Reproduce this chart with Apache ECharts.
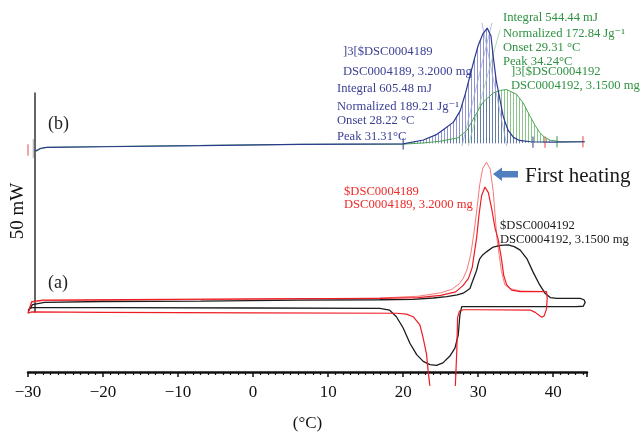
<!DOCTYPE html>
<html><head><meta charset="utf-8">
<script src="https://cdn.jsdelivr.net/npm/echarts@6/dist/echarts.min.js"></script>
<style>html,body{margin:0;padding:0;background:#fff}#c{width:640px;height:437px}</style>
</head><body><div id="c"></div>
<script>
// ---- data (x: temperature °C, y: heat flow, mW, arbitrary offset) ----
const xMin = -30, xMax = 44.5, xInterval = 10;
const xTickLabels = [-30, -20, -10, 0, 10, 20, 30, 40];

// (a) DSC0004192 heating + cooling loop (black)
const blackA = [[-30,13.9],[-29.4,15.5],[-27.8,16.0],[-20,16.2],[-7,16.3],[6.2,16.5],[16.9,16.6],[21.3,16.7],[24,17.0],[25.8,17.3],[27.2,17.7],[28.0,18.1],[28.9,19.2],[29.3,21.1],[29.8,23.4],[30.0,24.9],[30.2,26.0],[30.6,26.9],[31.1,27.6],[32.0,28.7],[33.0,29.1],[34.0,29.2],[34.8,28.8],[35.6,28.0],[36.5,26.0],[37.3,23.0],[38.2,20.0],[38.9,18.1],[39.6,17.1],[40.5,16.9],[43.6,16.9],[44.1,16.6],[44.25,16.0],[44.0,15.1],[43.0,15.0],[35,15.0],[30,15.0],[27.8,15.0],[27.56,13.1],[27.34,8.5],[26.9,5.5],[26.2,3.6],[25.3,2.1],[24.45,1.5],[23.56,1.7],[22.67,2.45],[21.8,4.0],[20.9,6.6],[20.0,10.1],[19.1,12.7],[18.2,14.2],[16.9,14.6],[0,14.7],[-20,14.8],[-29.5,14.8],[-30,14.3]];

// (a) DSC0004189 heating + cooling loop (red)
const redA = [[-30,13.5],[-29.5,16.2],[-28,16.5],[0,16.8],[16.9,16.9],[22,17.1],[25,17.6],[27,18.4],[28.0,19.9],[28.7,21.5],[29.2,24.0],[29.5,27.5],[29.8,31.0],[30.1,36.0],[30.45,40.5],[30.9,42.5],[31.35,41.2],[31.8,37.5],[32.25,33.0],[32.65,30.6],[33.1,26.0],[33.4,22.2],[33.8,20.0],[34.45,18.8],[35.6,18.45],[39.1,18.45],[39.2,17.0],[39.1,14.5],[38.8,12.9],[38.5,12.6],[38.2,12.9],[37.6,13.7],[37.0,14.2],[30,14.3],[28.0,14.3],[27.5,14.0],[27.25,12.5],[27.15,5.0],[26.95,-3.2],[26.95,'-'],[23.56,-3.2],[23.33,0.2],[23.12,4.0],[22.67,7.8],[22.23,10.8],[21.33,12.7],[20.45,13.3],[19.1,13.5],[0,13.6],[-20,13.7],[-29.5,13.8],[-30,13.5]];

// (a) DSC0004189 first heating (light red)
const redFirst = [[-30,13.5],[-29.5,16.0],[-28,16.4],[0,16.7],[16.9,17.0],[22,17.4],[25,18.2],[26.5,19.0],[27.5,20.3],[28.0,21.5],[28.5,23.5],[29.0,27.0],[29.4,31.5],[29.8,37.0],[30.2,43.0],[30.6,46.8],[31.1,48.2],[31.6,46.6],[32.0,41.5],[32.3,35.0],[32.5,30.6],[32.8,26.8],[33.1,23.1],[33.56,20.0],[34.2,19.2],[35.6,18.6],[39.1,18.5]];

// (b) integrated heating curves
const blueB = [[-29.1,50.7],[-28.3,51.4],[-27.5,51.6],[-20,51.75],[-7,52.0],[6.2,52.3],[20,52.4],[22.7,53.3],[24.5,54.6],[25.3,55.6],[26.7,57.4],[27.6,60.0],[28.3,64.0],[28.9,68.0],[29.5,72.0],[30.0,75.0],[30.6,77.6],[31.2,79.0],[31.7,77.2],[32.0,72.5],[32.4,67.0],[32.9,62.6],[33.3,59.0],[33.6,57.3],[34.0,55.5],[34.7,53.9],[35.5,53.2],[37.0,52.9],[40,52.8],[44.2,52.9]];
const greenB = [[-29.1,50.5],[-28.3,51.3],[-27.5,51.6],[-20,51.8],[-7,52.05],[6.2,52.3],[20,52.35],[22.5,52.6],[24.9,53.0],[27.3,53.8],[28.5,55.5],[29.3,58.0],[30.6,61.9],[32.0,64.1],[33.0,64.7],[33.8,64.9],[35.1,63.8],[36.0,61.8],[36.9,58.8],[37.6,56.6],[38.2,55.0],[38.8,54.0],[39.6,53.25],[41,52.9],[44.2,52.9]];
const blueRange = [20.0, 37.3], greenRange = [24.9, 40.5];
const blueBase = 52.5, greenBase = 52.6;
const blueTangents = [[[27.83,51.87],[31.83,80.2]], [[30.5,80.2],[33.83,51.87]]];
const greenTangents = [[[28.67,51.9],[32.9,78.6]]];
const blueMarks = [[20.0,52.4],[37.3,52.8]], greenMarks = [[40.5,52.9]], redMarks = [[38.9,52.8],[43.96,52.9],[-30,51.0]];
const greyMarks = [[-29.3,51.3]];

// texts
const blueText = [']3[$DSC0004189','DSC0004189, 3.2000 mg','Integral 605.48 mJ','Normalized 189.21 Jg⁻¹','Onset 28.22 °C','Peak 31.31°C'];
const greenText = ['Integral 544.44 mJ','Normalized 172.84 Jg⁻¹','Onset 29.31 °C','Peak 34.24°C',']3[$DSC0004192','DSC0004192, 3.1500 mg'];
const redText = ['$DSC0004189','DSC0004189, 3.2000 mg'];
const blackText = ['$DSC0004192','DSC0004192, 3.1500 mg'];

// ---- chart ----
const SERIF = '"Liberation Serif","DejaVu Serif",serif';
function hatch(color, step) {
  const c = document.createElement('canvas'); c.width = step; c.height = 4;
  const g = c.getContext('2d'); g.fillStyle = color; g.fillRect(0, 0, 1, 4); return c;
}
function lineSeries(data, color, width, extra) {
  return Object.assign({type:'line', data, showSymbol:false, symbol:'none', clip:false, connectNulls:false,
    lineStyle:{color, width}, itemStyle:{color}, silent:true, animation:false}, extra || {});
}
function marks(data, color, half) {
  return {type:'custom', data, clip:false, silent:true, animation:false,
    renderItem(p, api) {
      const x = api.value(0), y = api.value(1);
      const a = api.coord([x, y - half]), b = api.coord([x, y + half]);
      return {type:'line', shape:{x1:a[0], y1:a[1], x2:b[0], y2:b[1]}, style:{stroke:color, lineWidth:1}};
    }};
}
const series = [];
series.push(lineSeries(greenB.filter(p => p[0] >= greenRange[0] && p[0] <= greenRange[1]), 'rgba(0,0,0,0)', 0,
  {areaStyle:{color:{image:hatch('rgba(60,160,60,0.85)',3), repeat:'repeat'}, origin: greenBase}}));
series.push(lineSeries(blueB.filter(p => p[0] >= blueRange[0] && p[0] <= blueRange[1]), 'rgba(0,0,0,0)', 0,
  {areaStyle:{color:{image:hatch('rgba(70,78,175,0.85)',3), repeat:'repeat'}, origin: blueBase}}));
blueTangents.forEach(t => series.push(lineSeries(t, '#a6aadb', 0.8)));
greenTangents.forEach(t => series.push(lineSeries(t, '#9ed39e', 0.8)));
series.push(lineSeries(greenB, '#4aa84f', 1));
series.push(lineSeries(blueB, '#2c3990', 1.2));
series.push(marks(blueMarks, '#2c3990', 1.3));
series.push(marks(greenMarks, '#3a9a45', 1.3));
series.push(marks(redMarks, '#ee4444', 1.3));
series.push(marks(greyMarks, '#aaaaaa', 2.2));
series.push(lineSeries(redFirst, '#f36a6a', 0.9));
series.push(lineSeries(blackA, '#1c1c1c', 1.3));
series.push(lineSeries(redA, '#ee1c24', 1.2));

function texts(list, x, ys, color) {
  return list.map((t, i) => ({type:'text', x, y: ys[i], silent:true,
    style:{text:t, fill:color, font:'12.6px ' + SERIF, verticalAlign:'middle', textVerticalAlign:'middle'}}));
}
const graphic = [].concat(
  texts(blueText.slice(0,2), 343, [52, 72], '#3a3f94'),
  texts(blueText.slice(2), 337, [89, 107, 121, 137], '#3a3f94'),
  texts(greenText.slice(0,4), 503, [18, 34, 48, 62], '#2f9142'),
  texts(greenText.slice(4), 511, [72, 86], '#2f9142'),
  texts(redText, 344, [192, 205], '#ee2a2a'),
  texts(blackText, 500, [226, 240], '#1a1a1a'),
  [
    {type:'text', x:48, y:124, style:{text:'(b)', fill:'#222', font:'18px ' + SERIF, verticalAlign:'middle'}},
    {type:'text', x:48, y:283, style:{text:'(a)', fill:'#222', font:'18px ' + SERIF, verticalAlign:'middle'}},
    {type:'text', x:18, y:211, rotation:Math.PI/2, style:{text:'50 mW', fill:'#111', font:'19px ' + SERIF, align:'center', verticalAlign:'middle'}},
    {type:'text', x:525, y:176, style:{text:'First heating', fill:'#1a1a1a', font:'21px ' + SERIF, verticalAlign:'middle'}},
    {type:'polygon', shape:{points:[[493,174],[502,167.5],[502,171],[518,171],[518,177.5],[502,177.5],[502,181]]}, style:{fill:'#4f7fbf'}}
  ]
);

const chart = echarts.init(document.getElementById('c'), null, {renderer:'canvas'});
chart.setOption({
  animation:false,
  backgroundColor:'#fff',
  grid:[{left:28, right:53, top:2, height:372}, {left:34.5, top:93, height:219, width:10}],
  xAxis:[{type:'value', min:xMin, max:xMax, interval:xInterval, gridIndex:0,
    axisLine:{show:true, onZero:false, lineStyle:{color:'#111', width:2.5}},
    axisTick:{show:true, length:5, lineStyle:{color:'#111', width:1.5}},
    minorTick:{show:true, splitNumber:10, length:3, lineStyle:{color:'#111', width:1.2}},
    splitLine:{show:false},
    axisLabel:{margin:12, color:'#111', fontSize:17, fontFamily:SERIF, showMaxLabel:false,
      formatter: v => xTickLabels.includes(v) ? String(v).replace('-', '\u2212') : ''},
    name:'(°C)', nameLocation:'middle', nameGap:43, nameTextStyle:{color:'#111', fontSize:17, fontFamily:SERIF}},
    {type:'value', gridIndex:1, show:false, min:0, max:1}],
  yAxis:[{type:'value', min:0, max:85, show:false, gridIndex:0},
    {type:'value', gridIndex:1, min:0, max:50,
     axisLine:{show:true, lineStyle:{color:'#333', width:1.5}}, axisTick:{show:false}, axisLabel:{show:false}, splitLine:{show:false}}],
  series,
  graphic
});
</script></body></html>
